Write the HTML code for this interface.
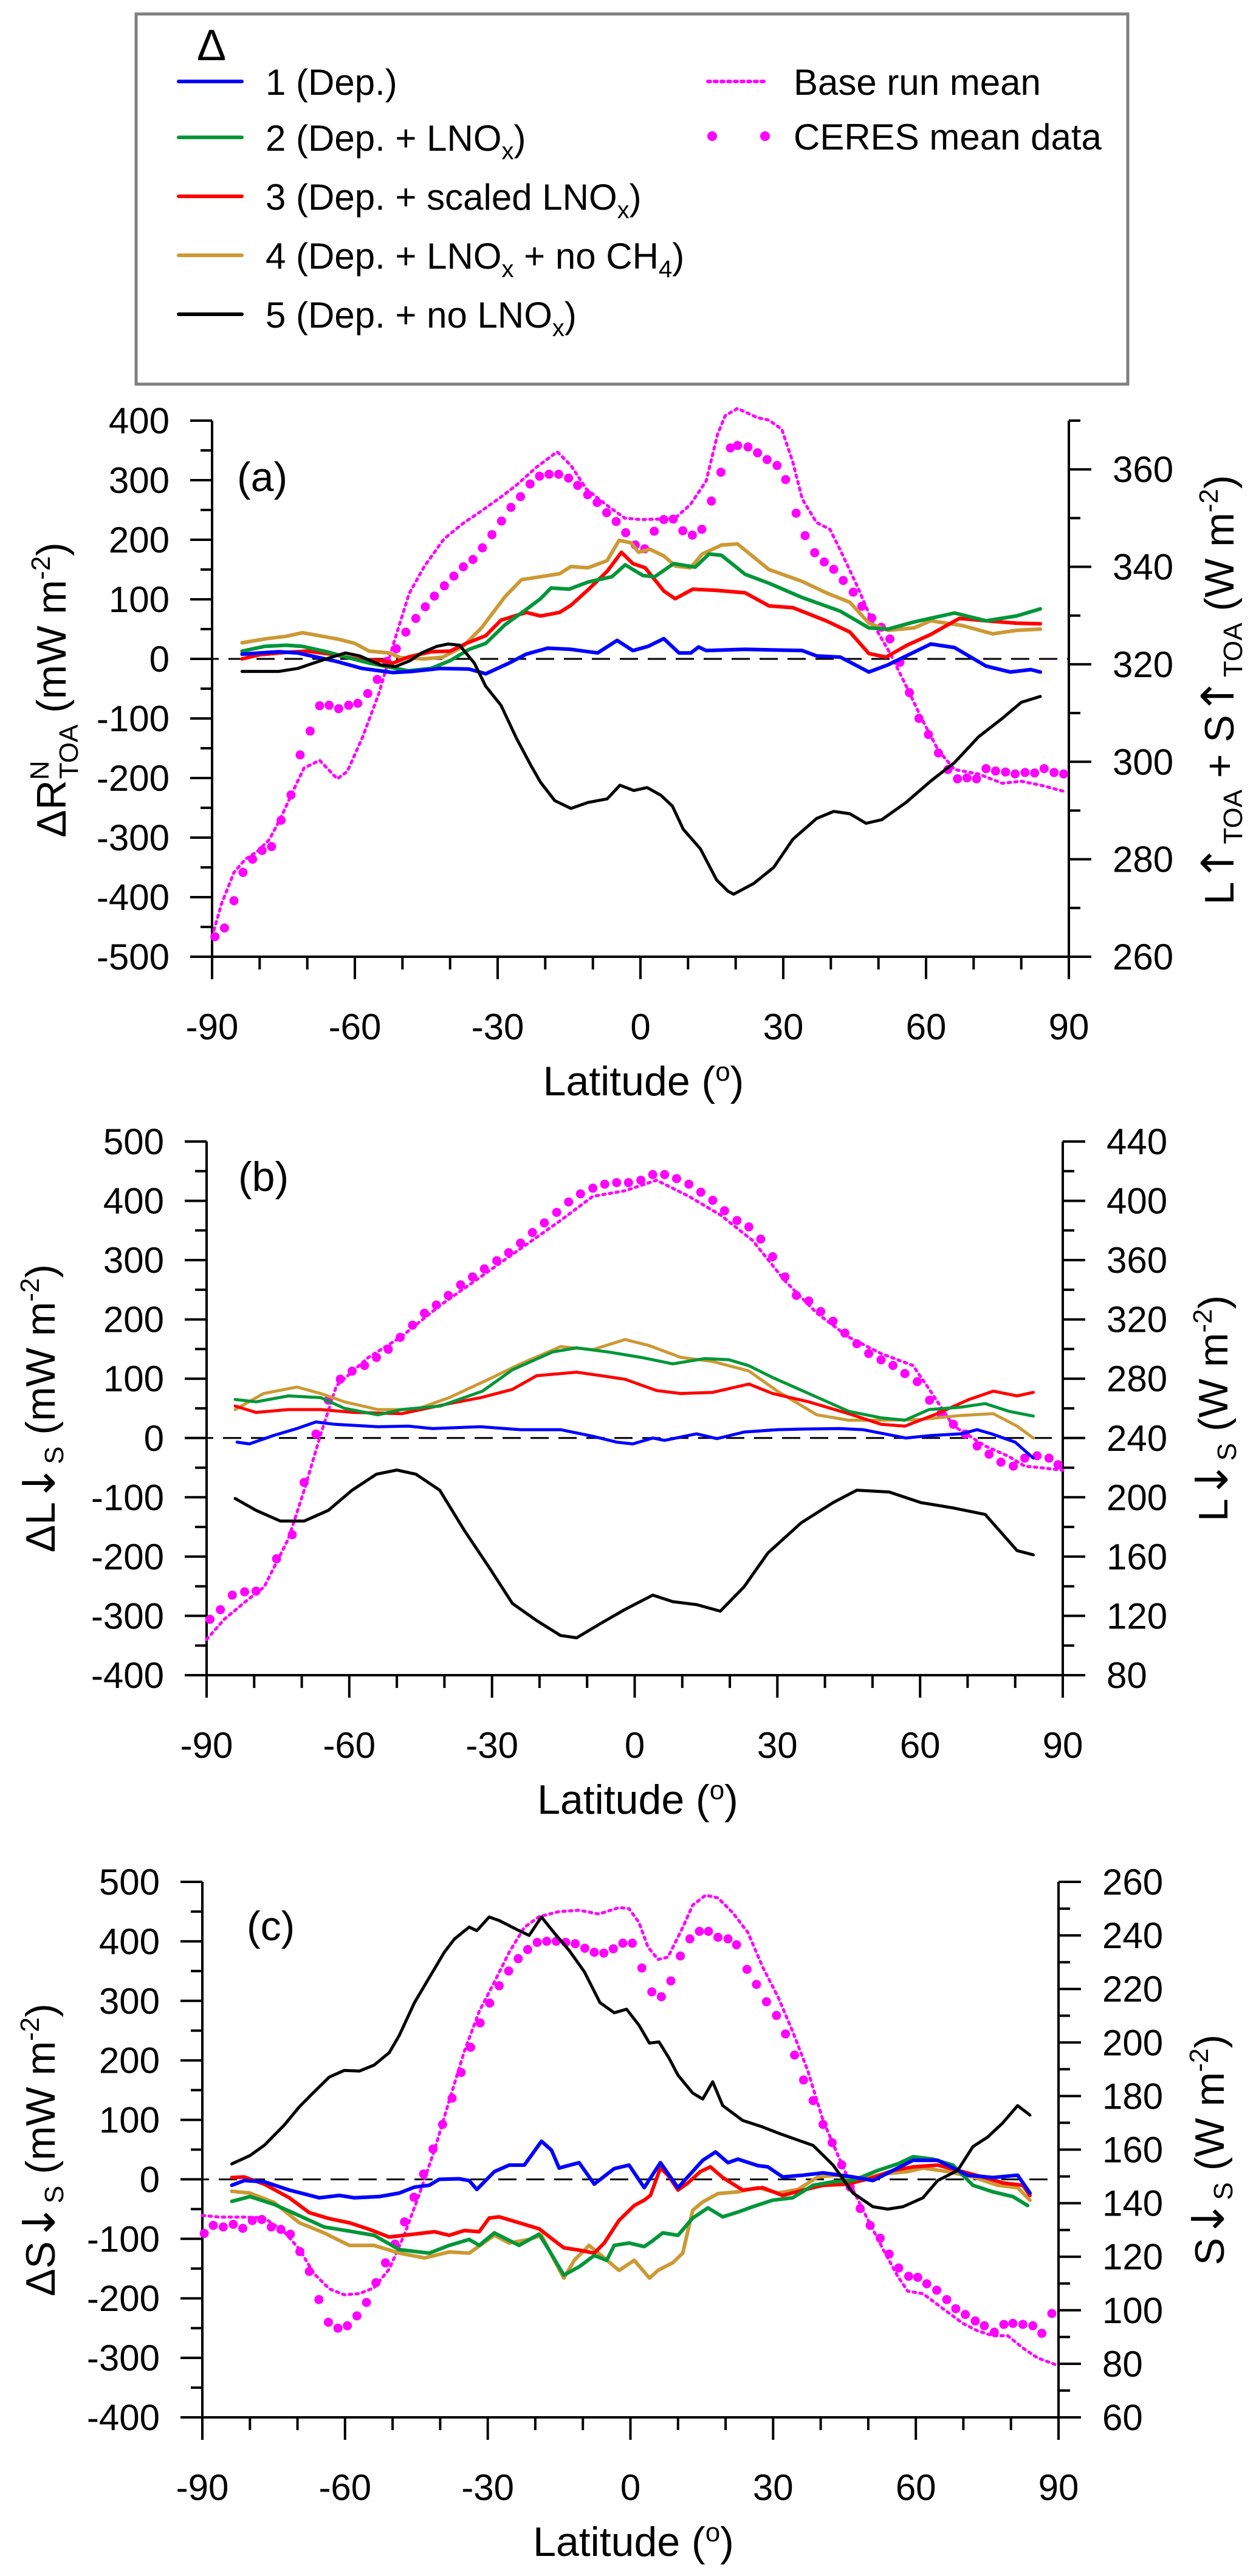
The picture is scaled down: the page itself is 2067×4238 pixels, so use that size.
<!DOCTYPE html>
<html><head><meta charset="utf-8"><title>Zonal mean radiative flux differences</title>
<style>
html,body{margin:0;padding:0;background:#fff;}
svg{display:block;font-family:"Liberation Sans",sans-serif;}
</style></head>
<body>
<svg id="fig" width="2067" height="4238" viewBox="0 0 2067 4238" xmlns="http://www.w3.org/2000/svg">
<g>
<rect x="224" y="23" width="1632" height="609" fill="#fff" stroke="#808080" stroke-width="5"/>
<text x="348" y="99" font-size="72" text-anchor="middle">Δ</text>
<g><line x1="294" y1="134" x2="398" y2="134" stroke="#0000ff" stroke-width="6" stroke-linecap="round"/><text x="437" y="156" font-size="60">1 (Dep.)</text></g>
<g><line x1="294" y1="226" x2="398" y2="226" stroke="#009639" stroke-width="6" stroke-linecap="round"/><text x="437" y="248" font-size="60">2 (Dep. + LNO<tspan font-size="40" dy="14">x</tspan><tspan dy="-14">)</tspan></text></g>
<g><line x1="294" y1="323" x2="398" y2="323" stroke="#ff0000" stroke-width="6" stroke-linecap="round"/><text x="437" y="345" font-size="60">3 (Dep. + scaled LNO<tspan font-size="40" dy="14">x</tspan><tspan dy="-14">)</tspan></text></g>
<g><line x1="294" y1="420" x2="398" y2="420" stroke="#cc9933" stroke-width="6" stroke-linecap="round"/><text x="437" y="442" font-size="60">4 (Dep. + LNO<tspan font-size="40" dy="14">x</tspan><tspan dy="-14"> + no CH</tspan><tspan font-size="40" dy="14">4</tspan><tspan dy="-14">)</tspan></text></g>
<g><line x1="294" y1="517" x2="398" y2="517" stroke="#000" stroke-width="6" stroke-linecap="round"/><text x="437" y="539" font-size="60">5 (Dep. + no LNO<tspan font-size="40" dy="14">x</tspan><tspan dy="-14">)</tspan></text></g>
<g><line x1="1165" y1="134" x2="1257" y2="134" stroke="#ff00ff" stroke-width="6" stroke-dasharray="4 7" stroke-linecap="round"/><text x="1306" y="156" font-size="60">Base run mean</text></g>
<g><circle cx="1172" cy="224" r="8" fill="#ff00ff"/><circle cx="1259" cy="224" r="8" fill="#ff00ff"/><text x="1306" y="246" font-size="60">CERES mean data</text></g>
</g>
</svg>
<script>
// ---------- Panel (a) data ----------
const aBlueLat=[-83.7,-76,-72,-68,-64,-58.5,-52,-48,-42,-36,-32.5,-27.6,-24,-19.5,-14.6,-9,-4.9,-1.6,1.6,4.9,8.1,10.6,12.2,13.8,22,34,37,42,48,52,61,66,72.6,77.7,82,84];
const aBlueVal=[8,12,10,3,-4,-16,-23,-21,-16,-17,-25,-7,8,18,16,10,31,14,21,34,10,10,20,14,16,14,5,3,-22,-10,25,19,-12,-22,-18,-22];
const aGreenLat=[-83.7,-79,-74.4,-71,-66,-61.8,-57,-52,-48.8,-44,-40,-36,-32.5,-28.5,-24,-21,-18.8,-15,-11,-6,-3.2,0.5,3,7,11.5,14.4,17,22,27,34,42,48,52,57.5,66,72.6,79,84];
const aGreenVal=[13,21,23,21,12,3,-7,-15,-20,-16,-3,16,26,57,83,101,119,117,129,138,158,140,138,160,154,176,174,142,127,103,80,52,50,62,77,64,72,84];
const aRedLat=[-83.7,-80,-74.4,-70,-65,-59,-54.5,-52,-48.8,-44,-40,-36.6,-32.5,-29.3,-24,-21,-17,-14.6,-11,-7,-4,-1.6,1,4.9,7.3,11,16,22,27,32,39,44,48,51.6,56,61,67,72.6,79,84];
const aRedVal=[0,7,11,13,8,-1,-3,-7,3,12,13,26,39,65,78,72,78,90,116,147,179,160,153,114,101,117,115,111,89,86,64,45,9,3,23,41,68,64,60,59];
const aGoldLat=[-83.7,-78.5,-74.4,-71,-67.5,-63.4,-60,-57,-52.8,-50.4,-45.5,-41.5,-37.4,-33.4,-28.5,-25,-21,-17,-14.6,-11,-7,-4.5,-2,-0.4,2,4.9,7.3,10.5,13,17,20.4,27,34,39,44,48,52,57.5,61,67.6,74,79,84];
const aGoldVal=[27,34,38,44,39,33,26,13,10,2,0,3,20,52,104,133,138,143,155,153,165,199,195,179,184,173,156,153,176,191,193,150,130,111,95,60,48,52,64,56,42,48,50];
const aBlackLat=[-83.7,-79.5,-76,-72,-69,-65.6,-62,-59,-54.6,-51.5,-48.4,-46,-42.8,-40.4,-38,-34.9,-32.5,-29.3,-26,-23,-21,-18,-14.6,-11,-7,-4.3,-1.4,1.4,4.3,6.7,9,12.6,16,18.4,19.6,23.8,28,32,37,40.6,44,47.4,50.7,55.8,61,66,71,76,80,84];
const aBlackVal=[-21,-21,-21,-16,-8,1,10,5,-10,-13,-3,10,21,25,23,-7,-46,-78,-134,-179,-207,-238,-251,-241,-235,-212,-221,-216,-229,-247,-286,-319,-371,-390,-395,-377,-350,-303,-268,-256,-260,-276,-270,-241,-205,-174,-131,-100,-73,-63];
const aBaseLat=[-90,-88,-85.4,-83,-80.5,-78,-75.6,-73,-70.7,-67.4,-63.7,-61.6,-58.4,-55,-51.9,-48.6,-45.4,-41.3,-37.3,-33.2,-29.2,-26,-21.9,-17.5,-14.6,-11.4,-7.3,-3.3,0,4,7.3,10.5,13.8,16.2,17.8,20.4,24.6,27,29.7,32,34,37,39.8,42,45.7,49,52.4,55.8,59,62.6,66,71,76,80,84.5,89.5];
const aBaseVal=[264.1,270.9,277.3,280,281.6,284,288.4,294,298.7,300.3,296.5,298,305,313.9,324.2,334.5,340.1,345.7,348.9,351.6,354.4,356.8,360.4,363.6,360.8,356,352.8,350,349.7,349.8,350,352.8,357.6,367.2,371,372.5,370.6,370.1,368.2,361.5,353.9,349.1,347.7,343.4,335.7,328.1,322.3,315.6,309,302.3,298.4,297.5,295.6,296,295.1,293.8];
const aCeresLat=[-89.4,-87.4,-85.4,-83.5,-81.5,-79.5,-77.5,-75.5,-73.4,-71.5,-69.4,-67.4,-65.4,-63.4,-61.3,-59.4,-57.3,-55.3,-53.3,-51.3,-49.3,-47.2,-45.2,-43.3,-41.2,-39.2,-37.2,-35.2,-33.2,-31.2,-29.2,-27.2,-25.2,-23.2,-21.2,-19.2,-17.2,-15.1,-13.2,-11.1,-9.1,-7.1,-5.1,-3.1,-1.1,0.9,2.9,4.9,6.9,8.9,10.9,12.9,14.9,16.9,18.9,20.4,22.6,24.6,26.6,28.7,30.5,32.7,34.6,36.6,38.6,40.6,42.6,44.7,46.5,48.6,50.6,52.4,54.5,56.5,58.5,60.5,62.6,64.6,66.6,68.6,70.6,72.6,74.6,76.7,78.7,80.8,82.8,84.8,86.9,88.9];
const aCeresVal=[264.1,265.9,271.5,277.3,280,281.8,282.6,288,293.2,301.4,306.3,311.5,311.6,310.9,311.6,312,314,316.9,320.6,323.2,326.6,329.4,331.8,334,336.1,338.1,340,341.5,343.9,346.6,349.4,352.2,354.4,357,358.6,359,359,358.2,356.7,354.8,353.2,351.1,349.3,347,344.5,343.7,347.3,349.7,349.8,347.4,346.5,347.7,353.5,359.4,364.4,364.9,364.6,363.4,362,360.8,357.9,351,346.4,342.9,341,339.5,337.2,334.8,331.9,329.5,327.6,325.2,320.4,314.2,308.9,305.6,301.8,298.4,296.5,296.7,296.5,298.6,298.1,297.9,297.5,297.8,297.7,298.6,297.8,297.5];
const aLeftTicks=[400,300,200,100,0,-100,-200,-300,-400,-500];
const aRightTicks=[260,280,300,320,340,360];

// ---------- Panel (b) data ----------
const bBlueLat=[-83.6,-81,-76,-71,-67,-63,-54,-47.6,-42.5,-32.4,-24,-15.6,-8.8,-3.8,-0.4,3.8,6.3,13,17.3,23,30,35,43,48,57,62,68.6,72,75,80,83.8];
const bBlueVal=[-7,-10,4,16,27,23,19,20,16,19,14,14,3,-7,-10,0,-4,7,-1,10,14,15,16,14,0,4,7,14,7,-7,-34];
const bGreenLat=[-84,-79.6,-72.8,-66,-61,-54,-49,-40.8,-32,-25.7,-17.3,-12.2,-5.5,1.3,8,14.7,19.8,24,29,36.6,45,51.8,56.8,61.9,68.6,73.7,78.7,83.8];
const bGreenVal=[65,61,71,68,50,39,48,54,79,115,145,152,145,136,125,134,132,122,102,75,45,34,30,48,52,58,45,37];
const bRedLat=[-84,-79.6,-72.8,-66,-59,-49,-39,-32.4,-25.7,-20.6,-12.2,-7,-2,4.6,9.7,16.4,24,29,36.6,45,51.8,56.8,63.6,70.3,75.4,80.4,83.8];
const bRedVal=[54,43,48,48,43,41,58,68,82,105,111,105,99,80,75,77,91,75,61,41,23,20,41,65,79,71,77];
const bGoldLat=[-84,-78,-71,-66,-61,-54,-46,-39,-30.7,-24,-15.6,-8.8,-2,3,9.7,16.4,24,30,38.3,45,51.8,60,68.6,75.4,80.4,83.8];
const bGoldVal=[48,75,86,75,61,48,48,68,99,125,154,149,166,156,136,129,113,79,39,30,30,31,38,41,20,0];
const bBlackLat=[-84,-79.6,-74.5,-69.5,-64.4,-59.4,-54.3,-50,-46,-41,-35.8,-30.7,-25.7,-20.6,-15.6,-12.2,-7.2,-2,3.8,8,13,18,23,28,35,41.7,46.7,53.5,60.2,67,73.7,80.4,83.8];
const bBlackVal=[-102,-122,-140,-140,-122,-88,-61,-54,-61,-88,-156,-217,-279,-308,-333,-337,-313,-289,-265,-276,-281,-292,-251,-194,-143,-109,-88,-91,-109,-118,-129,-190,-197];
const bBaseLat=[-90,-86.3,-81.2,-77.9,-72.8,-69.5,-66,-62.7,-56,-49.2,-40.8,-32.4,-24,-15.6,-8.8,-2,4.6,11.4,18,24.8,31.6,38.3,45,51.8,58.5,62,67,73.7,78.7,82,85.5,90];
const bBaseVal=[104.1,117.7,131.3,139.5,172,204.7,242.7,275.3,294.3,308,329.7,348.7,367.7,386.7,403,406.8,413.9,403,390.5,373.2,346,324.2,308,297,288.9,272.6,248.2,234.6,227.5,221,219.9,218.3];
const bCeresLat=[-89.3,-87.1,-84.6,-82,-79.6,-75.3,-72,-69.5,-67,-64.4,-61.9,-59.4,-56.8,-54.3,-51.8,-49.3,-46.7,-44.2,-41.7,-39.2,-36.6,-34.1,-31.6,-29,-26.5,-24,-21.5,-19,-16.4,-13.9,-11.4,-8.8,-6.3,-3.8,-1.3,1.3,3.8,6.3,8.8,11.4,13.9,16.4,18.9,21.5,24,26.5,29,31.6,34,36.6,39.1,41.7,44.2,46.7,49.2,51.8,54.3,56.8,59.4,62,64.4,67,69.5,72,74.5,77,79.6,82,84.6,87.1,89];
const bCeresVal=[117.7,124.2,134,136.2,136.7,158.5,174.8,210,242.7,265.5,279.7,285.1,288.9,294.3,299.8,307.9,316.1,324.2,329.7,336.2,343.3,348.7,354.1,359.6,365,371.5,378.6,385.1,392.2,399.2,404.7,408.5,411.2,412.3,412.3,413.9,417.7,417.7,415,411.2,405.8,400.3,393.3,386.7,382.4,374.2,362.3,348.7,336.2,332.4,325.3,318.8,310.7,303.6,297,292.7,288.9,283.5,278,265.5,256.3,249.2,242.7,234.6,229.1,223.7,221,226.4,228,226.4,222];
const bLeftTicks=[500,400,300,200,100,0,-100,-200,-300,-400];
const bRightTicks=[80,120,160,200,240,280,320,360,400,440];

// ---------- Panel (c) data ----------
const cBlueLat=[-83.8,-81.2,-77,-71.7,-65.4,-61.2,-58,-52.8,-48.6,-45.4,-42.3,-40.2,-36,-33.9,-32.3,-28.6,-25.5,-22.3,-18.7,-16.6,-15,-10.8,-7.6,-3.4,-0.3,2.9,6.3,10,15.2,17.9,20.5,22.6,26.8,28.9,32,36.3,40.5,46.8,51,59.4,64.6,70.9,76.2,81.4,84];
const cBlueVal=[-10,-2,-4,-18,-31,-27,-31,-29,-23,-13,-10,0,1,-2,-17,13,24,24,64,49,19,28,-8,18,24,-14,28,-14,32,46,28,34,23,21,4,7,11,4,-2,32,32,7,3,7,-23];
const cGreenLat=[-83.8,-80,-74.9,-69.6,-64.4,-59.1,-53.9,-48.6,-42.3,-38.1,-33.9,-31.8,-28.6,-23.4,-19.2,-17.1,-14,-10.8,-7.6,-5,-3.4,-0.3,2.9,4.7,6.8,10,13.1,16.3,19.4,22.6,25.7,29.9,34.1,38.4,42.6,46.8,52,56.2,59.4,63.6,67.8,72,76.2,80.4,83.5];
const cGreenVal=[-37,-29,-42,-61,-80,-87,-94,-118,-124,-111,-101,-111,-90,-111,-92,-119,-161,-147,-128,-136,-111,-107,-113,-103,-90,-94,-65,-48,-63,-55,-46,-35,-31,-10,-4,-2,15,26,38,34,24,-10,-21,-29,-44];
const cRedLat=[-83.8,-81.2,-77,-71.7,-67.5,-63.3,-59.1,-54.9,-50.7,-45.4,-41.2,-38.1,-34.9,-31.8,-29.7,-27.6,-23.4,-19.2,-16,-14,-10.8,-7.6,-5.5,-2.4,0.8,2.9,4.2,6.3,7.9,10,12.1,14.7,16.8,19.4,23.6,27.8,32,36.3,40.5,45.7,51,55.2,59.4,64.6,68.8,74.1,78.3,82.5,84];
const cRedVal=[3,4,-8,-31,-56,-66,-73,-84,-97,-92,-88,-94,-86,-88,-65,-63,-73,-83,-103,-115,-119,-124,-107,-69,-44,-35,-27,19,7,-18,-6,13,21,3,-18,-14,-27,-18,-10,-8,3,15,21,24,15,4,-6,-10,-27];
const cGoldLat=[-83.8,-80,-74.9,-69.6,-64.4,-59.1,-53.9,-48.6,-43.3,-38.1,-33.9,-28.6,-25.5,-21.3,-18.7,-16,-14,-11.8,-8.7,-5.5,-2.4,0.8,4,5.8,8.9,11,13.1,15.2,18.4,22.6,26.8,31,35.2,39.4,43.6,47.8,53.1,58.3,61.5,66.7,72,77.2,81.4,84];
const cGoldVal=[-20,-23,-39,-73,-90,-111,-111,-124,-132,-122,-124,-94,-107,-101,-94,-136,-166,-136,-111,-132,-153,-136,-166,-153,-140,-124,-52,-38,-24,-21,-14,-23,-17,4,7,-2,9,13,19,13,4,-10,-14,-35];
const cBlackLat=[-83.8,-80,-77,-72.8,-69.6,-66.5,-63.3,-60.2,-57,-53.9,-50.7,-48.6,-45.4,-42.3,-39.1,-37,-33.9,-32.3,-29.7,-27.6,-23.4,-21.3,-18.7,-16,-12.9,-9.7,-6.4,-3.4,-0.8,1.8,4,6,8.1,10,13.1,15.2,17.3,19.4,23.6,27.8,31,35.2,38.4,42.6,46.8,51,54.1,57.3,61.5,64.6,68.8,72,75.1,78.3,81.4,84];
const cBlackVal=[26,40,57,91,122,147,172,183,182,192,213,242,297,339,382,404,424,418,441,435,418,410,441,414,385,349,297,280,286,259,229,231,204,175,145,135,164,124,99,88,78,66,57,24,-23,-46,-50,-46,-31,-2,15,55,71,95,124,108];
const cBaseLat=[-90,-86.4,-81.2,-77,-72.8,-69.6,-66.5,-63.3,-60.2,-57,-53.9,-50.7,-47.5,-44.4,-41.2,-38.1,-34.9,-31.8,-28.6,-25.5,-22.3,-19.2,-15,-10.8,-6.6,-2.4,-0.3,1.8,3.7,5.8,7.9,11,13.1,15.8,18.4,21.5,24.7,27.8,31,34.1,37.3,40.5,43.6,46.8,49.9,53.1,56.2,58.3,61.5,65.7,69.9,73,76.2,79.3,82.5,85.6,89.8];
const cBaseVal=[135.4,134.8,134.8,134.5,129.3,122.8,113.6,108,105.8,106.2,108.4,115.4,128.4,143.2,159.8,178.3,196.8,211.6,222.6,233.7,243,247,248.9,249.4,248,250.4,250,244.8,235.6,231,231.9,243,251.3,255,254,248.5,241.1,228.2,217.1,204.2,189.4,170.9,158,145,133.9,122.8,112.7,107.1,106.2,100.6,95.1,92.3,90.5,90.5,85.9,82.2,79.4];
const cCeresLat=[-89.6,-87.7,-85.6,-83.5,-81.5,-79.5,-77.5,-75.5,-73.5,-71.5,-69.5,-67.5,-65.5,-63.5,-61.5,-59.5,-57.5,-55.5,-53.5,-51.5,-49.5,-47.5,-45.5,-43.5,-41.5,-39.5,-37.5,-35.6,-33.6,-31.6,-29.6,-27.6,-25.6,-23.6,-21.6,-19.6,-17.6,-15.6,-13.6,-11.6,-9.6,-7.6,-5.6,-3.6,-1.6,0.4,2.4,4.5,6.5,8.5,10.5,12.5,14.5,16.4,18.4,20.5,22.3,24.5,26.5,28.6,30.7,32.6,34.5,36.4,38.4,40.5,42.4,44.4,46.2,48.3,50.4,52.5,54.4,56.4,58.5,60.4,62.3,64.4,66.5,68.4,70.4,72.5,74.4,76.5,78.5,80.4,82.5,84.6,86.5,88.6];
const cCeresVal=[128.7,131.7,131.1,132.1,130.6,133.5,133.9,131.1,130.2,128.4,121.9,114.5,104,95.5,93.3,94.2,97.9,102.9,110.3,117.7,124.7,133,142.2,150.9,160.2,169.4,179.2,188.8,198.2,207.3,214.7,221.2,226.7,231.3,234.7,237.4,237.8,237.8,237.4,236.9,235.2,233.7,233.4,235,237.1,237.1,227.8,218.9,217.1,223,232.3,238.7,241.5,241.5,239.3,238.7,236.5,227.3,221.7,215.2,210.1,203.2,195.3,186,178.3,169.4,162.6,154.3,146,138,131.7,126.9,121,115.8,112.7,112.3,109.9,107.5,104,100.6,98.4,96,94.2,91.8,94.7,95.1,94.7,94.2,91.4,98.8];
const cLeftTicks=[500,400,300,200,100,0,-100,-200,-300,-400];
const cRightTicks=[60,80,100,120,140,160,180,200,220,240,260];

const latTicks=[-90,-60,-30,0,30,60,90];

// ---------- drawing ----------
const NS="http://www.w3.org/2000/svg";
const svg=document.getElementById('fig');
function mk(tag,parent){const e=document.createElementNS(NS,tag);parent.appendChild(e);return e;}
function pathFrom(lats,vals,sx,sy){let d='';const n=Math.min(lats.length,vals.length);for(let i=0;i<n;i++){d+=(i?'L':'M')+sx(lats[i]).toFixed(1)+' '+sy(vals[i]).toFixed(1);}return d;}

function drawPanel(P){
  const g=mk('g',svg);
  
  
  const sx=v=>P.x0+(v+90)/180*(P.x1-P.x0);
  const syL=v=>P.yTop+(P.lMax-v)/(P.lMax-P.lMin)*(P.yBot-P.yTop);
  const syR=v=>P.yTop+(P.rMax-v)/(P.rMax-P.rMin)*(P.yBot-P.yTop);
  const ax=mk('path',g);
  ax.setAttribute('d',`M${P.x0} ${P.yTop}V${P.yBot+37}M${P.x1} ${P.yTop}V${P.yBot+37}M${P.x0-36} ${P.yBot}H${P.x1+37}`);
  ax.setAttribute('stroke','#000');ax.setAttribute('stroke-width','4');ax.setAttribute('fill','none');
  
  
  let td='';
  for(let v=P.lMin;v<=P.lMax+0.001;v+=P.lMinor){const y=syL(v);const major=Math.abs((v-P.lMin)%P.lMajor)<0.01;td+=`M${P.x0-(major?36:19)} ${y.toFixed(1)}H${P.x0}`;}
  for(let v=P.rMin;v<=P.rMax+0.001;v+=P.rMinor){const y=syR(v);const major=P.rightTicks.some(t=>Math.abs(t-v)<0.01);td+=`M${P.x1} ${y.toFixed(1)}H${P.x1+(major?37:19)}`;}
  for(let v=-90;v<=90;v+=10){const x=sx(v);const major=v%30===0;td+=`M${x.toFixed(1)} ${P.yBot}V${P.yBot+(major?37:21)}`;}
  const tk=mk('path',g);tk.setAttribute('d',td);tk.setAttribute('stroke','#000');tk.setAttribute('stroke-width','4');
  
  
  P.leftTicks.forEach(v=>{const t=mk('text',g);t.setAttribute('x',P.x0-70);t.setAttribute('y',(syL(v)+21).toFixed(1));t.setAttribute('text-anchor','end');t.setAttribute('font-size','60');t.textContent=v;
    
    });
  P.rightTicks.forEach(v=>{const t=mk('text',g);t.setAttribute('x',P.x1+72);t.setAttribute('y',(syR(v)+21).toFixed(1));t.setAttribute('font-size','60');t.textContent=v;
    
    });
  latTicks.forEach(v=>{const t=mk('text',g);t.setAttribute('x',sx(v).toFixed(1));t.setAttribute('y',P.yBot+136);t.setAttribute('text-anchor','middle');t.setAttribute('font-size','60');t.textContent=v;
    
    });
  const xt=mk('text',g);xt.setAttribute('x',(P.x0+P.x1)/2+5);xt.setAttribute('y',P.yBot+228);xt.setAttribute('text-anchor','middle');xt.setAttribute('font-size','68');
  xt.innerHTML='Latitude (<tspan font-size="44" dy="-24">o</tspan><tspan dy="24">)</tspan>';
  
  
  const lt=mk('text',g);lt.setAttribute('transform',`translate(${P.lTitleX},${P.titleY}) rotate(-90)`);lt.setAttribute('text-anchor','middle');lt.setAttribute('font-size','68');lt.innerHTML=P.lTitle;
  
  
  const rt=mk('text',g);rt.setAttribute('transform',`translate(${P.rTitleX},${P.titleY}) rotate(-90)`);rt.setAttribute('text-anchor','middle');rt.setAttribute('font-size','68');rt.innerHTML=P.rTitle;
  
  
  const pl=mk('text',g);pl.setAttribute('x',P.labX);pl.setAttribute('y',P.labY);pl.setAttribute('font-size','68');pl.textContent='('+P.id+')';
  
  
  const z=mk('line',g);z.setAttribute('x1',P.x0-19);z.setAttribute('x2',P.x1);z.setAttribute('y1',syL(0));z.setAttribute('y2',syL(0));z.setAttribute('stroke','#000');z.setAttribute('stroke-width','3');z.setAttribute('stroke-dasharray','30 16');
  
  
  const b=mk('path',g);b.setAttribute('d',pathFrom(P.baseLat,P.baseVal,sx,syR));b.setAttribute('fill','none');b.setAttribute('stroke','#ff00ff');b.setAttribute('stroke-width','5');b.setAttribute('stroke-dasharray','4 7');b.setAttribute('stroke-linecap','round');
  
  
  const n=Math.min(P.ceresLat.length,P.ceresVal.length);
  for(let i=0;i<n;i++){const c=mk('circle',g);c.setAttribute('cx',sx(P.ceresLat[i]).toFixed(1));c.setAttribute('cy',syR(P.ceresVal[i]).toFixed(1));c.setAttribute('r','7.5');c.setAttribute('fill','#ff00ff');
    
    }
  P.series.forEach(s=>{const p=mk('path',g);p.setAttribute('d',pathFrom(s.lat,s.val,sx,syL));p.setAttribute('fill','none');p.setAttribute('stroke',s.color);p.setAttribute('stroke-width',s.w);p.setAttribute('stroke-linejoin','round');p.setAttribute('stroke-linecap','round');
    
    });
}

const sub=(t)=>`<tspan font-size="44" dy="14">${t}</tspan><tspan dy="-14">`;
const arr=(a)=>`<tspan font-family="DejaVu Sans" font-size="74">${a}</tspan>`;
const unitsMW=' (mW m<tspan font-size="44" dy="-26">-2</tspan><tspan dy="26">)</tspan>';
const unitsW=' (W m<tspan font-size="44" dy="-26">-2</tspan><tspan dy="26">)</tspan>';

drawPanel({id:'a',x0:349,x1:1759,yTop:692,yBot:1574,lMin:-500,lMax:400,lMajor:100,lMinor:50,rMin:260,rMax:370,rMinor:10,
  leftTicks:aLeftTicks,rightTicks:aRightTicks,labX:390,labY:808,titleY:1135,lTitleX:108,rTitleX:2030,
  lTitle:'ΔR<tspan font-size="44" dy="-28">N</tspan><tspan font-size="44" dx="-30" dy="48">TOA</tspan><tspan dy="-20">'+unitsMW+'</tspan>',
  rTitle:'L'+arr('↑')+sub('TOA')+' + S</tspan>'+arr('↑')+sub('TOA')+unitsW+'</tspan>',
  baseLat:aBaseLat,baseVal:aBaseVal,ceresLat:aCeresLat,ceresVal:aCeresVal,
  series:[{lat:aGoldLat,val:aGoldVal,color:'#cc9933',w:6,name:'series-4-dep-lnox-no-ch4'},{lat:aRedLat,val:aRedVal,color:'#ff0000',w:6,name:'series-3-dep-scaled-lnox'},{lat:aGreenLat,val:aGreenVal,color:'#009639',w:6,name:'series-2-dep-lnox'},{lat:aBlueLat,val:aBlueVal,color:'#0000ff',w:6,name:'series-1-dep'},{lat:aBlackLat,val:aBlackVal,color:'#000',w:5,name:'series-5-dep-no-lnox'}]});

drawPanel({id:'b',x0:340,x1:1749,yTop:1878,yBot:2756,lMin:-400,lMax:500,lMajor:100,lMinor:50,rMin:80,rMax:440,rMinor:20,
  leftTicks:bLeftTicks,rightTicks:bRightTicks,labX:392,labY:1959,titleY:2317,lTitleX:90,rTitleX:2020,
  lTitle:'ΔL'+arr('↓')+sub('S')+unitsMW+'</tspan>',
  rTitle:'L'+arr('↓')+sub('S')+unitsW+'</tspan>',
  baseLat:bBaseLat,baseVal:bBaseVal,ceresLat:bCeresLat,ceresVal:bCeresVal,
  series:[{lat:bGoldLat,val:bGoldVal,color:'#cc9933',w:5,name:'series-4-dep-lnox-no-ch4'},{lat:bRedLat,val:bRedVal,color:'#ff0000',w:5,name:'series-3-dep-scaled-lnox'},{lat:bGreenLat,val:bGreenVal,color:'#009639',w:5,name:'series-2-dep-lnox'},{lat:bBlueLat,val:bBlueVal,color:'#0000ff',w:5,name:'series-1-dep'},{lat:bBlackLat,val:bBlackVal,color:'#000',w:5,name:'series-5-dep-no-lnox'}]});

drawPanel({id:'c',x0:333,x1:1742,yTop:3096,yBot:3977,lMin:-400,lMax:500,lMajor:100,lMinor:50,rMin:60,rMax:260,rMinor:10,
  leftTicks:cLeftTicks,rightTicks:cRightTicks,labX:406,labY:3192,titleY:3537,lTitleX:90,rTitleX:2014,
  lTitle:'ΔS'+arr('↓')+sub('S')+unitsMW+'</tspan>',
  rTitle:'S'+arr('↓')+sub('S')+unitsW+'</tspan>',
  baseLat:cBaseLat,baseVal:cBaseVal,ceresLat:cCeresLat,ceresVal:cCeresVal,
  series:[{lat:cGoldLat,val:cGoldVal,color:'#cc9933',w:6,name:'series-4-dep-lnox-no-ch4'},{lat:cRedLat,val:cRedVal,color:'#ff0000',w:6,name:'series-3-dep-scaled-lnox'},{lat:cGreenLat,val:cGreenVal,color:'#009639',w:6,name:'series-2-dep-lnox'},{lat:cBlueLat,val:cBlueVal,color:'#0000ff',w:6,name:'series-1-dep'},{lat:cBlackLat,val:cBlackVal,color:'#000',w:5,name:'series-5-dep-no-lnox'}]});
</script>
</body></html>
